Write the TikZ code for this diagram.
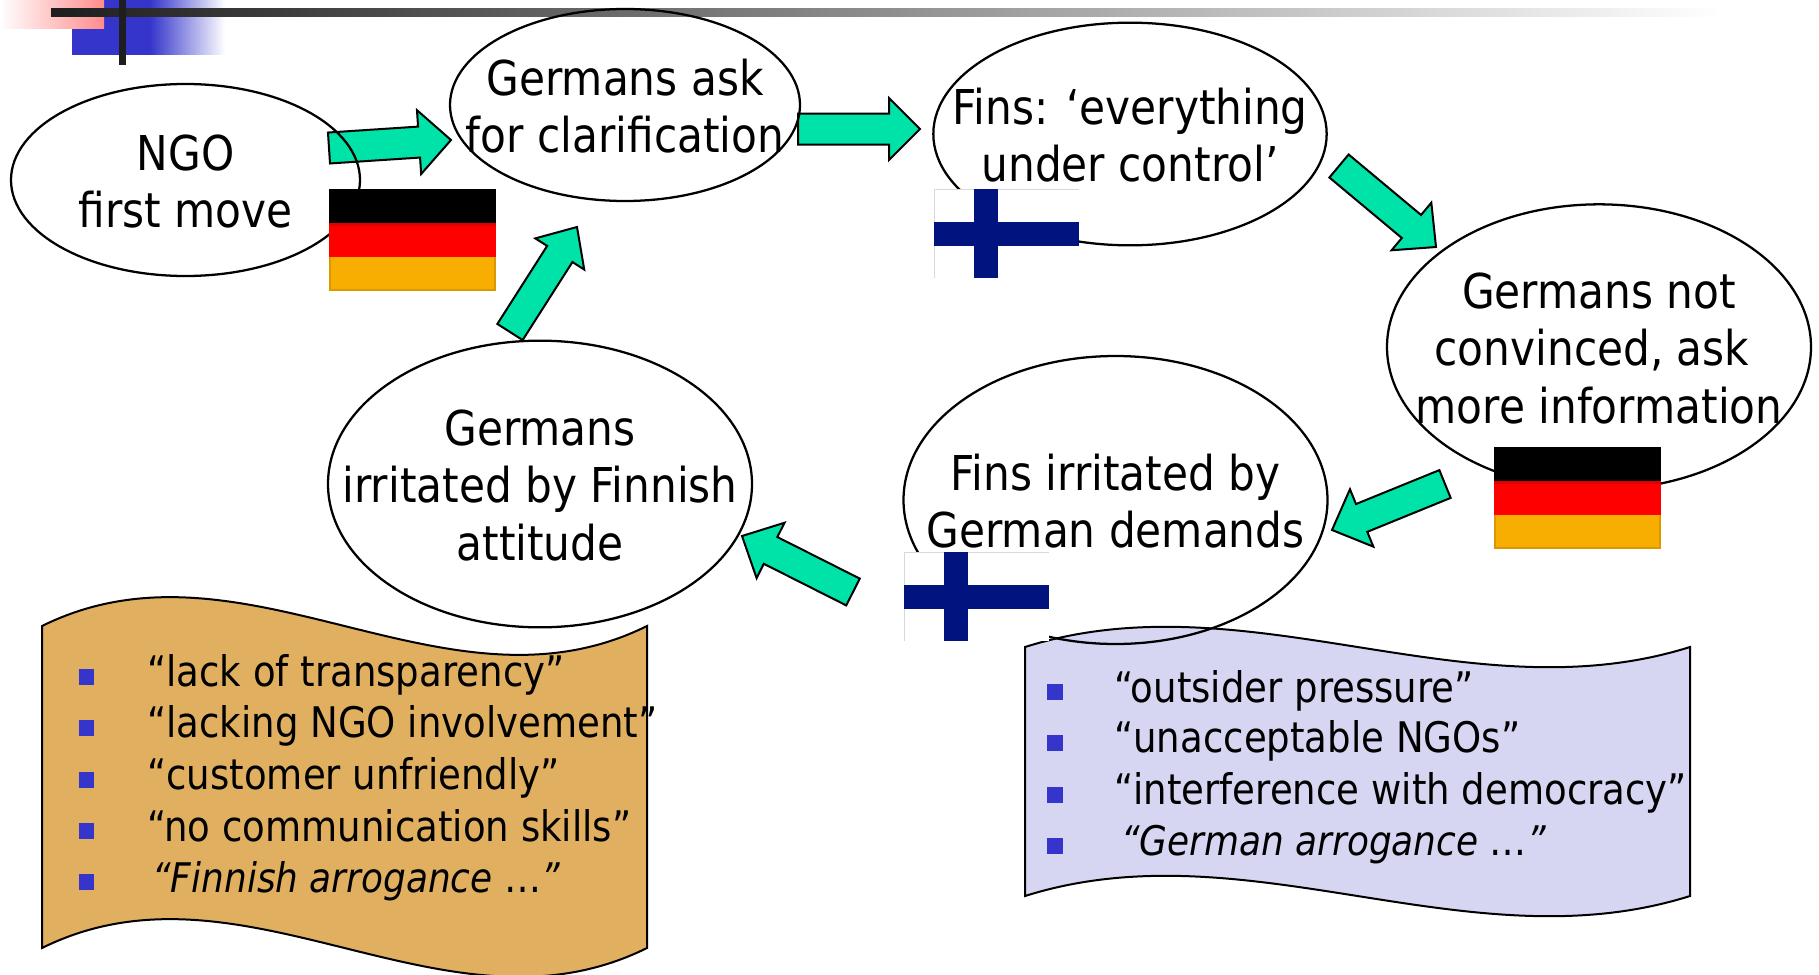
\documentclass[tikz,border=0pt]{standalone}
\usepackage{fontspec}
\setmainfont[FakeStretch=0.88]{DejaVu Sans}
\usetikzlibrary{shapes.geometric,calc}
\definecolor{flow}{HTML}{00E3A8}
\definecolor{scrollA}{HTML}{E0AF60}
\definecolor{scrollB}{HTML}{D6D6F2}
\definecolor{bul}{HTML}{3535CC}
\definecolor{fiblue}{HTML}{00137F}
\definecolor{deyel}{HTML}{F8AE00}
\definecolor{bar}{HTML}{1E1E1E}
\tikzset{
  bub/.style={ellipse,draw=black,line width=1.7pt,inner sep=0pt},
  bubtext/.style={align=center,inner sep=0pt,yshift=-1pt,font=\fontsize{36}{43}\selectfont,text=black},
  scrollline/.style={draw=black,line width=1.5pt},
  item/.style={anchor=base west,inner sep=0pt,font=\fontsize{31.6}{36}\selectfont},
  bulletbox/.style={rectangle,fill=bul,inner sep=0pt,minimum width=11.5pt,minimum height=12pt},
  blockarrow/.style={fill=flow,draw=black,line width=1.5pt,line join=miter},
}
\newcommand{\ittext}[1]{{\fontsize{30.6}{36}\selectfont\textit{#1}}}
% #1 tail coordinate, #2 tip coordinate, #3 half shaft, #4 head length, #5 half head
\newcommand{\blockarrow}[5]{%
  \coordinate (neck) at ($(#2)!#4*0.75pt!(#1)$);
  \draw[blockarrow]
    ($(#1)!#3*0.75pt!90:(#2)$) --
    ($(neck)!#3*0.75pt!90:(#2)$) --
    ($(neck)!#5*0.75pt!90:(#2)$) --
    (#2) --
    ($(neck)!#5*0.75pt!-90:(#2)$) --
    ($(neck)!#3*0.75pt!-90:(#2)$) --
    ($(#1)!#3*0.75pt!-90:(#2)$) -- cycle;
}
% German flag: name, x, y of top-left
\newcommand{\deflag}[3]{%
  \fill[black] (#2,#3) rectangle ++(167,34);
  \fill[red] (#2,#3+34) rectangle ++(167,34);
  \fill[red!88!black] (#2,#3+34) rectangle ++(167,3);
  \fill[deyel] (#2,#3+68) rectangle ++(167,34);
  \draw[deyel!88!black,line width=1pt] (#2+1,#3+68) -- (#2+1,#3+101) -- (#2+166,#3+101) -- (#2+166,#3+68);
  \coordinate (#1) at (#2,#3);
}
\newcommand{\fiflag}[3]{%
  \fill[white] (#2,#3) rectangle ++(145,89);
  \draw[black!15,line width=0.6pt] (#2,#3+89) -- (#2,#3) -- ++(145,0);
  \fill[fiblue] (#2+40,#3) rectangle ++(24,89);
  \fill[fiblue] (#2,#3+33) rectangle ++(145,24);
  \coordinate (#1) at (#2,#3);
}
\begin{document}
\begin{tikzpicture}[x=0.75pt,y=-0.75pt]
\useasboundingbox (0,0) rectangle (1819,974);
% header decoration
\fill[bul] (72,0) rectangle (150,55);
\shade[left color=bul,right color=white] (150,0) rectangle (225,55);
\shade[left color=white,right color=red!45] (0,0) rectangle (104,29);
\shade[left color=bar,right color=white] (51,9) rectangle (1720,17);
\fill[bar] (119,0) rectangle (126,65);
% named anchors for block arrows
\coordinate (a1t) at (329,148); \coordinate (a1h) at (451,140);
\coordinate (a2t) at (798,129); \coordinate (a2h) at (920,129);
\coordinate (a3t) at (1339,166); \coordinate (a3h) at (1436,247);
\coordinate (a4t) at (1445,484); \coordinate (a4h) at (1332,530);
\coordinate (a5t) at (853,592); \coordinate (a5h) at (742,536);
\coordinate (a6t) at (510,332); \coordinate (a6h) at (577,227);
\blockarrow{a1t}{a1h}{15.5}{32}{32}
\blockarrow{a2t}{a2h}{15.5}{31}{31}
\blockarrow{a3t}{a3h}{15}{32}{31}
\blockarrow{a4t}{a4h}{15}{32}{31}
\blockarrow{a5t}{a5h}{15}{32}{31}
\blockarrow{a6t}{a6h}{15}{32}{29}
% scrolls
\path[fill=scrollA,scrollline] (42,626) .. controls (244,526) and (445,726) .. (647,626)
  -- (647,948) .. controls (445,1048) and (244,848) .. (42,948) -- cycle;
\path[fill=scrollB,scrollline] (1025,647) .. controls (1247,577) and (1468,717) .. (1690,647)
  -- (1690,896) .. controls (1468,966) and (1247,826) .. (1025,896) -- cycle;
% ellipses
\node[bub,minimum width=261.75pt,minimum height=144pt] (n1) at (185.5,180) {};
\node[bub,minimum width=262.5pt,minimum height=144pt] (n2) at (625,105) {};
\node[bub,minimum width=295pt,minimum height=167pt] (n3) at (1130,134) {};
\node[bub,minimum width=318pt,minimum height=214pt] (n4) at (1599,347) {};
\node[bub,minimum width=318pt,minimum height=216pt] (n5) at (1115.5,500) {};
\node[bub,minimum width=318pt,minimum height=215pt] (n6) at (540,484) {};
\node[bubtext] (t1) at (n1) {NGO\\first move};
\node[bubtext] (t2) at (n2) {Germans ask\\for clarification};
\node[bubtext] (t3) at (n3) {Fins: ‘everything\\under control’};
\node[bubtext] (t4) at (n4) {Germans not\\convinced, ask\mbox{}\hspace{10.5pt}\mbox{}\\more information};
\node[bubtext] (t5) at (n5) {Fins irritated by\\German demands};
\node[bubtext] (t6) at (n6) {Germans\\irritated by Finnish\\attitude};
% flags
\deflag{f1}{329}{189}
\deflag{f2}{1494}{447}
\fiflag{f3}{934}{189}
\fiflag{f4}{904}{552}
% lists
\node[bulletbox] (b1) at (86.5,677) {};
\node[bulletbox] (b2) at (86.5,728) {};
\node[bulletbox] (b3) at (86.5,780) {};
\node[bulletbox] (b4) at (86.5,831) {};
\node[bulletbox] (b5) at (86.5,882) {};
\node[item] (l1) at (147,686) {“lack of transparency”};
\node[item] (l2) at (147,737) {“lacking NGO involvement”};
\node[item] (l3) at (147,789) {“customer unfriendly”};
\node[item] (l4) at (147,841) {“no communication skills”};
\node[item] (l5) at (152,892) {\ittext{“Finnish arrogance }…\ittext{”}};
\node[bulletbox] (c1) at (1055,692) {};
\node[bulletbox] (c2) at (1055,743) {};
\node[bulletbox] (c3) at (1055,795) {};
\node[bulletbox] (c4) at (1055,846) {};
\node[item] (m1) at (1114,702) {“outsider pressure”};
\node[item] (m2) at (1114,752) {“unacceptable NGOs”};
\node[item] (m3) at (1114,804) {“interference with democracy”};
\node[item] (m4) at (1121,855) {\ittext{“German arrogance }…\ittext{”}};
\end{tikzpicture}
\end{document}
